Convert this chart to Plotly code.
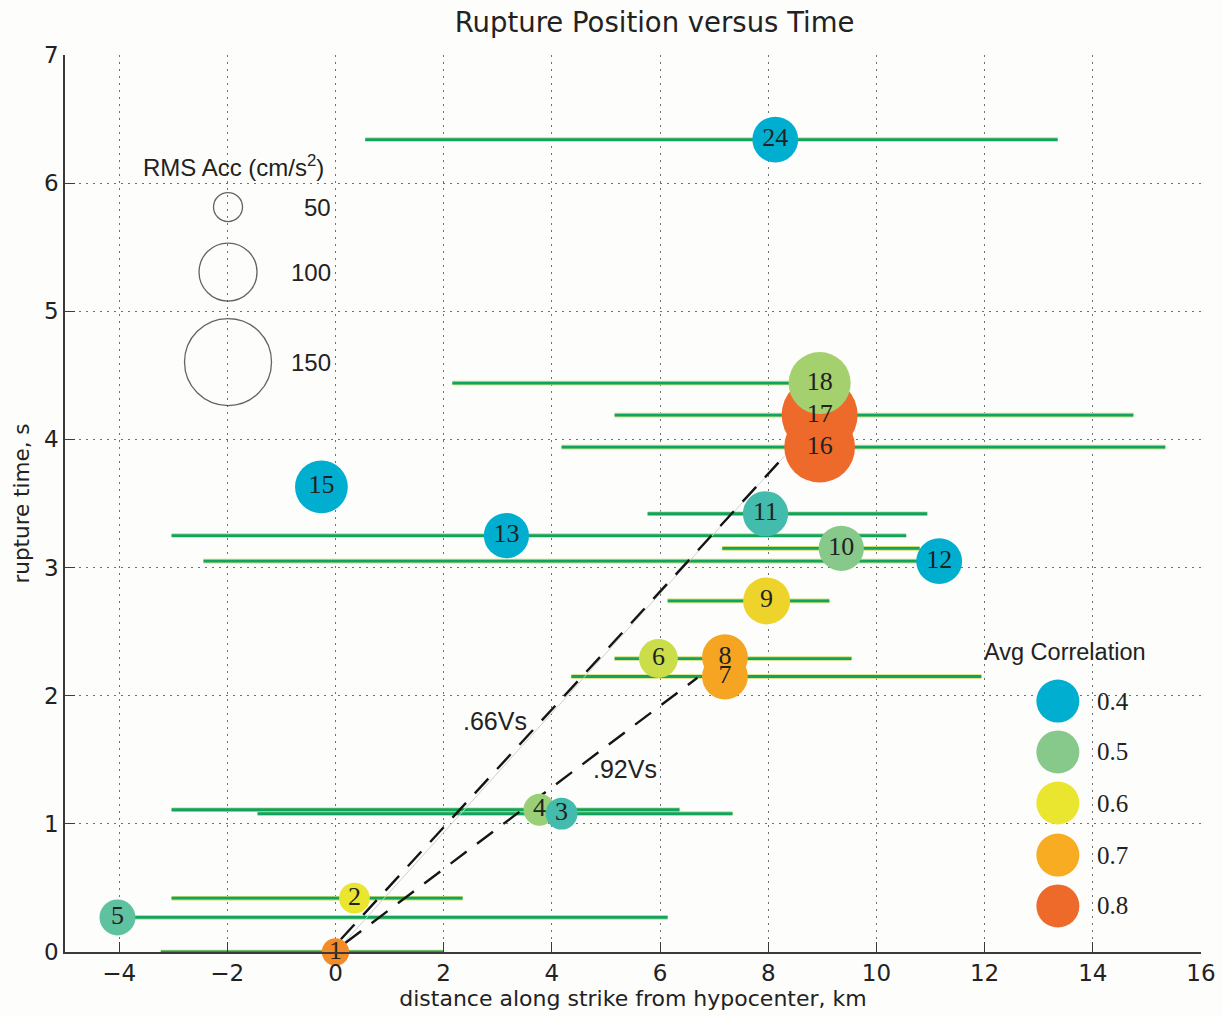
import plotly.graph_objects as go

# ---------------- data ----------------
event_id = [1, 2, 4, 3, 5, 6, 7, 8, 9, 10, 11, 12, 13, 15, 16, 17, 18, 24]
distance = [0.0, 0.35, 3.77, 4.18, -4.03, 5.97, 7.2, 7.2, 7.97, 9.35, 7.95, 11.16, 3.16, -0.26, 8.95, 8.95, 8.95, 8.13]
rup_time = [0.0, 0.42, 1.11, 1.08, 0.27, 2.29, 2.15, 2.30, 2.74, 3.15, 3.42, 3.05, 3.25, 3.63, 3.94, 4.19, 4.44, 6.34]
range_lo = [-3.23, -3.03, -3.03, -1.44, -4.03, 5.16, 4.36, None, 6.14, 7.15, 5.77, -2.44, -3.03, None, 4.18, 5.16, 2.16, 0.55]
range_hi = [2.0, 2.35, 6.36, 7.34, 6.14, 9.54, 11.94, None, 9.13, 10.8, 10.94, 11.16, 10.55, None, 15.34, 14.75, 8.95, 13.35]
avg_corr = [0.75, 0.6, 0.52, 0.45, 0.47, 0.57, 0.71, 0.71, 0.63, 0.5, 0.45, 0.4, 0.4, 0.4, 0.8, 0.8, 0.53, 0.4]
rms_acc = [47, 53, 55, 55, 62, 67, 79, 79, 81, 78, 78, 79, 78, 91, 122, 131, 107, 79]

vs66_x = [0.1, 8.3]
vs66_y = [0.1, 3.87]
vs92_x = [0.18, 6.69]
vs92_y = [0.07, 2.14]

rms_legend_vals = [50, 100, 150]
corr_legend_vals = [0.4, 0.5, 0.6, 0.7, 0.8]

x_ticks = [-4, -2, 0, 2, 4, 6, 8, 10, 12, 14, 16]
y_ticks = [0, 1, 2, 3, 4, 5, 6, 7]

# ---------------- styling ----------------
corr_scale = [[0.0, "#00AFD0"], [0.25, "#86C98A"], [0.5, "#EAE52E"],
              [0.75, "#F7AC22"], [1.0, "#EE6A2B"]]
CMIN, CMAX = 0.4, 0.8
SIZEREF = 1 / 0.58
SANS = "Liberation Sans, Arial, sans-serif"
WIDE = "DejaVu Sans, sans-serif"
SERIF = "Liberation Serif, Times New Roman, serif"
INK = "#222222"

fig = go.Figure()

# horizontal range bars (None-separated segments)
seg_x, seg_y = [], []
for lo, hi, t in zip(range_lo, range_hi, rup_time):
    if lo is None:
        continue
    seg_x += [lo, hi, None]
    seg_y += [t, t, None]
fig.add_trace(go.Scatter(x=seg_x, y=seg_y, mode="lines",
                         line=dict(color="#cfdc72", width=4.6), hoverinfo="skip"))
fig.add_trace(go.Scatter(x=seg_x, y=seg_y, mode="lines",
                         line=dict(color="#10a462", width=2.8), hoverinfo="skip"))

# velocity lines
fig.add_trace(go.Scatter(x=[0, vs66_x[1]], y=[0, vs66_y[1]], mode="lines",
                         line=dict(color="#d0d0d0", width=1), hoverinfo="skip"))
fig.add_trace(go.Scatter(x=vs66_x, y=vs66_y, mode="lines",
                         line=dict(color="#151515", width=2.4, dash="20px,13px"), hoverinfo="skip"))
fig.add_trace(go.Scatter(x=vs92_x, y=vs92_y, mode="lines",
                         line=dict(color="#151515", width=2.4, dash="20px,13px"), hoverinfo="skip"))

# event bubbles
fig.add_trace(go.Scatter(
    x=distance, y=rup_time, mode="markers+text", cliponaxis=False,
    text=[str(i) for i in event_id], textposition="middle center",
    textfont=dict(family=SERIF, size=26, color=INK),
    marker=dict(size=rms_acc, sizemode="diameter", sizeref=SIZEREF,
                color=avg_corr, colorscale=corr_scale, cmin=CMIN, cmax=CMAX,
                showscale=False, opacity=1, line=dict(width=0)),
    hoverinfo="skip"))

# ---- legends on an overlay axis pair spanning the plot area (0..1) ----
rms_leg_x = 0.1435
rms_leg_y = [0.8305, 0.758, 0.6577]
fig.add_trace(go.Scatter(
    x=[rms_leg_x] * len(rms_legend_vals), y=rms_leg_y, mode="markers",
    xaxis="x2", yaxis="y2",
    marker=dict(symbol="circle-open", size=rms_legend_vals, sizemode="diameter",
                sizeref=SIZEREF, color="#222222", line=dict(width=1.3, color="#222222")),
    hoverinfo="skip"))

corr_leg_x = 0.874
corr_leg_y = [0.2798, 0.223, 0.1661, 0.1081, 0.0513]
fig.add_trace(go.Scatter(
    x=[corr_leg_x] * len(corr_legend_vals), y=corr_leg_y, mode="markers",
    xaxis="x2", yaxis="y2",
    marker=dict(size=43, color=corr_legend_vals, colorscale=corr_scale,
                cmin=CMIN, cmax=CMAX, showscale=False, line=dict(width=0)),
    hoverinfo="skip"))

annotations = []
annotations.append(dict(xref="paper", yref="paper", x=0.148, y=0.876,
                        text="RMS Acc (cm/s<sup>2</sup>)", showarrow=False,
                        font=dict(family=SANS, size=24, color=INK),
                        xanchor="center", yanchor="middle"))
for v, yy in zip(rms_legend_vals, rms_leg_y):
    annotations.append(dict(xref="paper", yref="paper", x=0.236, y=yy, text=str(v),
                            showarrow=False, font=dict(family=SANS, size=24, color=INK),
                            xanchor="right", yanchor="middle"))
annotations.append(dict(xref="paper", yref="paper", x=0.880, y=0.3344,
                        text="Avg Correlation", showarrow=False,
                        font=dict(family=SANS, size=23.5, color=INK),
                        xanchor="center", yanchor="middle"))
for v, yy in zip(corr_legend_vals, corr_leg_y):
    annotations.append(dict(xref="paper", yref="paper", x=0.9067, y=yy, text=f"{v:.1f}",
                            showarrow=False, font=dict(family=SERIF, size=25, color=INK),
                            xanchor="left", yanchor="middle"))
annotations.append(dict(x=2.94, y=1.80, text=".66Vs", showarrow=False,
                        font=dict(family=SANS, size=25, color=INK)))
annotations.append(dict(x=5.36, y=1.43, text=".92Vs", showarrow=False,
                        font=dict(family=SANS, size=25, color=INK)))

axis_common = dict(showline=True, linecolor="#3a3a3a", linewidth=1.5,
                   ticks="inside", ticklen=10, tickwidth=1.3, tickcolor="#3a3a3a",
                   showgrid=True, gridcolor="#707070", gridwidth=1, griddash="1.5px,5.5px",
                   zeroline=False, mirror=False,
                   tickfont=dict(family=WIDE, size=23, color=INK))

fig.update_layout(
    width=1223, height=1017,
    margin=dict(l=65, r=22, t=55, b=65, autoexpand=False),
    paper_bgcolor="#fdfdfb", plot_bgcolor="#fdfdfb",
    showlegend=False,
    title=dict(text="Rupture Position versus Time", x=0.519, xref="paper",
               y=1 - 22 / 1017, yref="container", xanchor="center", yanchor="middle",
               font=dict(family=WIDE, size=27.5, color=INK)),
    xaxis=dict(range=[-5, 16], tickvals=x_ticks, ticktext=[str(v).replace("-", "\u2212") for v in x_ticks],
               title=dict(text="distance along strike from hypocenter, km", standoff=4,
                          font=dict(family=WIDE, size=22, color=INK)),
               **axis_common),
    yaxis=dict(range=[0, 7], tickvals=y_ticks,
               title=dict(text="rupture time, s", standoff=8,
                          font=dict(family=WIDE, size=21.5, color=INK)),
               **axis_common),
    xaxis2=dict(overlaying="x", range=[0, 1], visible=False, anchor="y2"),
    yaxis2=dict(overlaying="y", range=[0, 1], visible=False, anchor="x2"),
    annotations=annotations,
)

fig.write_html("out.html")
